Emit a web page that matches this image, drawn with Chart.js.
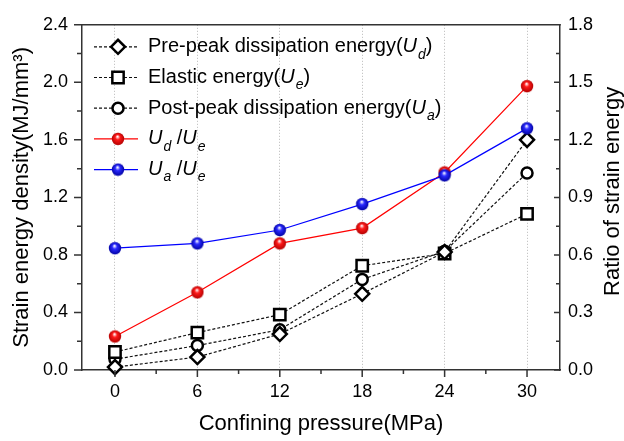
<!DOCTYPE html>
<html>
<head>
<meta charset="utf-8">
<script src="https://cdn.jsdelivr.net/npm/chart.js@4.4.0/dist/chart.umd.min.js"></script>
<style>
  body { margin: 0; background: #fff; }
  canvas { display: block; }
</style>
</head>
<body>
<canvas id="chart" width="624" height="441"></canvas>
<script>
// Strain energy vs confining pressure

// Data
const pressure = [0, 6, 12, 18, 24, 30];
const preDissipation = [0.02, 0.09, 0.25, 0.53, 0.82, 1.60];   // U_d (MJ/mm3)
const elasticEnergy = [0.125, 0.26, 0.385, 0.725, 0.81, 1.085]; // U_e
const postDissipation = [0.075, 0.17, 0.28, 0.63, 0.825, 1.37]; // U_a
const ratioDE = [0.175, 0.405, 0.66, 0.74, 1.03, 1.48];         // U_d/U_e
const ratioAE = [0.635, 0.66, 0.73, 0.865, 1.015, 1.26];        // U_a/U_e

// Axis ticks
const xTicks = [0, 6, 12, 18, 24, 30];
const leftTicks = [0, 0.4, 0.8, 1.2, 1.6, 2.0, 2.4];
const rightTicks = [0, 0.3, 0.6, 0.9, 1.2, 1.5, 1.8];

// Legend labels: [text, style] parts ('' normal, 'i' italic, 'sub' italic subscript)
const legendLabels = [
    [['Pre-peak dissipation energy(', ''], ['U', 'i'], ['d', 'sub'], [')', '']],
    [['Elastic energy(', ''], ['U', 'i'], ['e', 'sub'], [')', '']],
    [['Post-peak dissipation energy(', ''], ['U', 'i'], ['a', 'sub'], [')', '']],
    [['U', 'i'], ['d', 'sub'], [' /', ''], ['U', 'i'], ['e', 'sub']],
    [['U', 'i'], ['a', 'sub'], [' /', ''], ['U', 'i'], ['e', 'sub']]
];
const rightTitle = 'Ratio of strain energy';

const FONT = "'Liberation Sans', Arial, sans-serif";
const axisColor = '#333';

function pairs(ys) {
    return pressure.map((x, i) => ({ x: x, y: ys[i] }));
}

function midpoints(arr) {
    const out = [];
    for (let i = 0; i < arr.length - 1; i++) out.push((arr[i] + arr[i + 1]) / 2);
    return out;
}

// shaded ball marker
function ball(color, dark) {
    const c = document.createElement('canvas');
    c.width = 14;
    c.height = 14;
    const g = c.getContext('2d');
    const grad = g.createRadialGradient(6.5, 4.5, 0.3, 7, 7, 6.5);
    grad.addColorStop(0, '#ffffff');
    grad.addColorStop(0.35, color);
    grad.addColorStop(1, dark);
    g.fillStyle = grad;
    g.beginPath();
    g.arc(7, 7, 6.2, 0, Math.PI * 2);
    g.fill();
    return c;
}

const redBall = ball('#ff1a1a', '#b00000');
const blueBall = ball('#2a2aff', '#0000a0');

function openSeries(data, style, radius) {
    return {
        data: pairs(data),
        yAxisID: 'y',
        borderColor: '#111',
        borderWidth: 1.2,
        borderDash: [3, 2],
        pointStyle: style,
        pointRadius: radius,
        pointBackgroundColor: '#fff',
        pointBorderColor: '#000',
        pointBorderWidth: 2.5,
        clip: false,
        order: 2
    };
}

function ballSeries(data, color, img, order) {
    return {
        data: pairs(data),
        yAxisID: 'y1',
        borderColor: color,
        borderWidth: 1.2,
        pointStyle: img,
        pointRadius: 6,
        clip: false,
        order: order
    };
}

// tick marks, top frame line and the right axis title (reads bottom to top)
const frameTicks = {
    id: 'frameTicks',
    afterDraw(chart) {
        const { ctx, chartArea: a, scales } = chart;
        ctx.save();
        ctx.strokeStyle = axisColor;
        ctx.lineWidth = 1.5;
        ctx.beginPath();
        ctx.moveTo(a.left - 0.75, a.top);
        ctx.lineTo(a.right + 0.75, a.top);
        xTicks.forEach(v => {
            const px = scales.x.getPixelForValue(v);
            ctx.moveTo(px, a.bottom); ctx.lineTo(px, a.bottom + 7);
        });
        midpoints(xTicks).forEach(v => {
            const px = scales.x.getPixelForValue(v);
            ctx.moveTo(px, a.bottom); ctx.lineTo(px, a.bottom + 4);
        });
        leftTicks.forEach(v => {
            const py = scales.y.getPixelForValue(v);
            ctx.moveTo(a.left, py); ctx.lineTo(a.left - 8, py);
        });
        midpoints(leftTicks).forEach(v => {
            const py = scales.y.getPixelForValue(v);
            ctx.moveTo(a.left, py); ctx.lineTo(a.left - 5, py);
        });
        rightTicks.forEach(v => {
            const py = scales.y1.getPixelForValue(v);
            ctx.moveTo(a.right, py); ctx.lineTo(a.right - 6, py);
        });
        midpoints(rightTicks).forEach(v => {
            const py = scales.y1.getPixelForValue(v);
            ctx.moveTo(a.right, py); ctx.lineTo(a.right - 4, py);
        });
        ctx.stroke();

        ctx.translate(scales.y1.right - 11, (a.top + a.bottom) / 2 - 6);
        ctx.rotate(-Math.PI / 2);
        ctx.fillStyle = '#000';
        ctx.font = '22px ' + FONT;
        ctx.textAlign = 'center';
        ctx.textBaseline = 'middle';
        ctx.fillText(rightTitle, 0, 0);
        ctx.restore();
    }
};

// legend with line sample, marker and italic/subscript text
const customLegend = {
    id: 'customLegend',
    afterDraw(chart) {
        const ctx = chart.ctx;
        const x0 = chart.chartArea.left + 12;
        let y = chart.chartArea.top + 22;
        ctx.save();
        chart.data.datasets.forEach((ds, i) => {
            ctx.strokeStyle = ds.borderColor;
            ctx.lineWidth = ds.borderWidth;
            ctx.setLineDash(ds.borderDash || []);
            ctx.beginPath();
            ctx.moveTo(x0, y);
            ctx.lineTo(x0 + 44, y);
            ctx.stroke();
            ctx.setLineDash([]);
            ctx.fillStyle = ds.pointBackgroundColor || ds.borderColor;
            ctx.strokeStyle = ds.pointBorderColor || ds.borderColor;
            ctx.lineWidth = ds.pointBorderWidth || 1;
            Chart.helpers.drawPoint(ctx, {
                pointStyle: ds.pointStyle,
                radius: ds.pointRadius,
                borderWidth: ds.pointBorderWidth || 1,
                rotation: 0
            }, x0 + 24, y);

            let tx = x0 + 54;
            ctx.fillStyle = '#000';
            ctx.textBaseline = 'middle';
            legendLabels[i].forEach(([txt, st]) => {
                let dy = 0;
                if (st === 'sub') {
                    ctx.font = 'italic 14px ' + FONT;
                    dy = 8;
                } else if (st === 'i') {
                    ctx.font = 'italic 20px ' + FONT;
                } else {
                    ctx.font = '20px ' + FONT;
                }
                ctx.fillText(txt, tx, y + dy);
                tx += ctx.measureText(txt).width + (st === 'i' ? 1 : 0);
            });
            y += 30.7;
        });
        ctx.restore();
    }
};

const chart = new Chart(document.getElementById('chart'), {
    type: 'line',
    data: {
        datasets: [
            openSeries(preDissipation, 'rectRot', 7),
            openSeries(elasticEnergy, 'rect', 8),
            openSeries(postDissipation, 'circle', 5.5),
            ballSeries(ratioDE, '#ff0000', redBall, 1),
            ballSeries(ratioAE, '#0000ff', blueBall, 0)
        ]
    },
    options: {
        responsive: false,
        animation: false,
        layout: { padding: { top: 17, left: 0, right: 0, bottom: 0 } },
        plugins: {
            legend: { display: false },
            tooltip: { enabled: false }
        },
        scales: {
            x: {
                type: 'linear',
                min: -2.4,
                max: 32.4,
                afterBuildTicks: s => { s.ticks = xTicks.map(v => ({ value: v })); },
                afterFit: s => { s.height = 71; },
                grid: {
                    color: '#b8b8b8',
                    lineWidth: 1,
                    drawTicks: false
                },
                border: { display: true, color: axisColor, width: 1.5, dash: [1, 2] },
                ticks: {
                    padding: 11,
                    color: '#000',
                    font: { family: FONT, size: 18 },
                    maxRotation: 0
                },
                title: {
                    display: true,
                    text: 'Confining pressure(MPa)',
                    color: '#000',
                    font: { family: FONT, size: 22, lineHeight: 1 },
                    padding: { top: 0, bottom: 6 }
                }
            },
            y: {
                type: 'linear',
                position: 'left',
                min: 0,
                max: 2.4,
                afterBuildTicks: s => { s.ticks = leftTicks.map(v => ({ value: v })); },
                afterFit: s => { s.width = 82; },
                grid: { display: false, drawTicks: false },
                border: { display: true, color: axisColor, width: 1.5 },
                ticks: {
                    padding: 14,
                    color: '#000',
                    font: { family: FONT, size: 18 },
                    callback: v => v.toFixed(1)
                },
                title: {
                    display: true,
                    text: 'Strain energy density(MJ/mm\u00b3)',
                    color: '#000',
                    font: { family: FONT, size: 22, lineHeight: 1 },
                    padding: { top: 11, bottom: 0 }
                }
            },
            y1: {
                type: 'linear',
                position: 'right',
                min: 0,
                max: 1.8,
                afterBuildTicks: s => { s.ticks = rightTicks.map(v => ({ value: v })); },
                afterFit: s => { s.width = 64; },
                grid: { display: false, drawTicks: false },
                border: { display: true, color: axisColor, width: 1.5 },
                ticks: {
                    padding: 8,
                    color: '#000',
                    font: { family: FONT, size: 18 },
                    callback: v => v.toFixed(1)
                },
                title: { display: false }
            }
        }
    },
    plugins: [frameTicks, customLegend]
});
</script>
</body>
</html>
